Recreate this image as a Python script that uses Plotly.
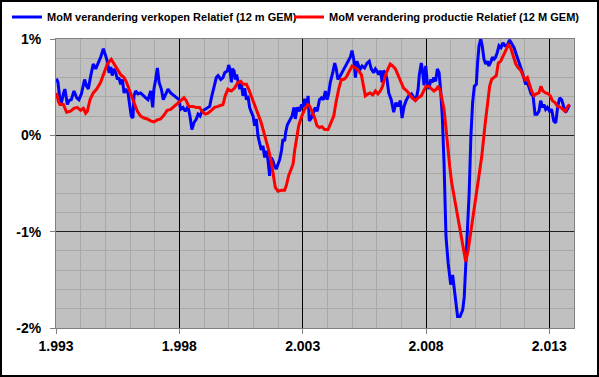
import plotly.graph_objects as go

# ---- data (decimal years, percent) ----
blue_x = [1993.02, 1993.08, 1993.16, 1993.22, 1993.30, 1993.36, 1993.46, 1993.53, 1993.62, 1993.73, 1993.84, 1993.93,
          1994.03, 1994.16, 1994.24, 1994.31, 1994.41, 1994.51, 1994.61, 1994.70, 1994.81, 1994.92,
          1995.01, 1995.08, 1995.15, 1995.22, 1995.28, 1995.35, 1995.42, 1995.49, 1995.55, 1995.62, 1995.69, 1995.76, 1995.82, 1995.92,
          1996.00, 1996.05, 1996.12, 1996.16, 1996.23, 1996.32, 1996.43, 1996.54, 1996.64, 1996.73, 1996.84, 1996.92, 1996.97,
          1997.04, 1997.11, 1997.18, 1997.27, 1997.35, 1997.45, 1997.54, 1997.65, 1997.78, 1997.89, 1997.99,
          1998.05, 1998.15, 1998.24, 1998.35, 1998.43, 1998.51, 1998.59, 1998.69, 1998.76, 1998.84, 1998.92,
          1999.03, 1999.14, 1999.23, 1999.30, 1999.41, 1999.50, 1999.57, 1999.68, 1999.77, 1999.84, 1999.95,
          2000.00, 2000.05, 2000.11, 2000.15, 2000.22, 2000.27, 2000.32, 2000.38, 2000.45, 2000.51, 2000.58, 2000.65, 2000.72, 2000.78, 2000.85, 2000.92, 2000.99,
          2001.05, 2001.12, 2001.19, 2001.26, 2001.32, 2001.39, 2001.46, 2001.53, 2001.59, 2001.66, 2001.73, 2001.80, 2001.86, 2001.93,
          2002.00, 2002.07, 2002.14, 2002.20, 2002.27, 2002.31, 2002.38, 2002.47, 2002.57, 2002.65, 2002.70, 2002.78, 2002.88, 2002.95,
          2003.01, 2003.08, 2003.16, 2003.22, 2003.27, 2003.35, 2003.45, 2003.51, 2003.59, 2003.68, 2003.76, 2003.84, 2003.92, 2003.99,
          2004.05, 2004.12, 2004.22, 2004.30, 2004.36, 2004.43, 2004.53, 2004.59, 2004.68, 2004.76, 2004.84, 2004.93,
          2005.00, 2005.07, 2005.14, 2005.20, 2005.27, 2005.34, 2005.41, 2005.51, 2005.61, 2005.70, 2005.78, 2005.88, 2005.95,
          2006.01, 2006.08, 2006.16, 2006.22, 2006.28, 2006.35, 2006.42, 2006.49, 2006.59, 2006.69, 2006.78, 2006.86, 2006.96,
          2007.03, 2007.11, 2007.19, 2007.30, 2007.41, 2007.51, 2007.59, 2007.68, 2007.73, 2007.81, 2007.86, 2007.92, 2007.99,
          2008.05, 2008.12, 2008.19, 2008.26, 2008.32, 2008.39, 2008.46, 2008.53, 2008.59, 2008.66, 2008.73, 2008.77, 2008.81, 2008.90,
          2009.00, 2009.08, 2009.13, 2009.21, 2009.28, 2009.38, 2009.49, 2009.55, 2009.62, 2009.71, 2009.75, 2009.82, 2009.89, 2009.96,
          2010.04, 2010.09, 2010.15, 2010.22, 2010.28, 2010.35, 2010.42, 2010.49, 2010.55, 2010.64, 2010.69, 2010.76, 2010.82, 2010.89, 2010.96,
          2011.04, 2011.12, 2011.20, 2011.30, 2011.39, 2011.47, 2011.57, 2011.66, 2011.74, 2011.82, 2011.91, 2011.99,
          2012.04, 2012.11, 2012.18, 2012.26, 2012.34, 2012.42, 2012.50, 2012.58, 2012.65, 2012.72, 2012.78, 2012.85, 2012.92,
          2013.01, 2013.09, 2013.18, 2013.26, 2013.34, 2013.42, 2013.50, 2013.58, 2013.66, 2013.73, 2013.82]
blue_y = [0.59, 0.55, 0.37, 0.34, 0.43, 0.48, 0.32, 0.36, 0.37, 0.46, 0.39, 0.37,
          0.43, 0.58, 0.51, 0.48, 0.62, 0.74, 0.69, 0.74, 0.81, 0.90,
          0.82, 0.77, 0.65, 0.71, 0.62, 0.69, 0.65, 0.58, 0.60, 0.53, 0.58, 0.44, 0.48, 0.44,
          0.29, 0.20, 0.18, 0.41, 0.46, 0.43, 0.44, 0.41, 0.39, 0.37, 0.46, 0.29, 0.48,
          0.58, 0.70, 0.55, 0.48, 0.37, 0.43, 0.48, 0.44, 0.41, 0.39, 0.37,
          0.27, 0.29, 0.25, 0.30, 0.20, 0.06, 0.13, 0.17, 0.22, 0.20, 0.25,
          0.27, 0.29, 0.30, 0.39, 0.51, 0.60, 0.62, 0.58, 0.60, 0.65, 0.67,
          0.73, 0.69, 0.55, 0.69, 0.67, 0.58, 0.63, 0.56, 0.48, 0.55, 0.41, 0.49, 0.37, 0.41, 0.29, 0.24, 0.20,
          0.10, 0.17, -0.01, -0.09, -0.15, -0.11, -0.23, -0.16, -0.25, -0.42, -0.23, -0.27, -0.32, -0.35,
          -0.30, -0.25, -0.16, -0.04, -0.06, 0.03, 0.11, 0.15, 0.20, 0.29, 0.17, 0.29, 0.25, 0.32,
          0.29, 0.38, 0.29, 0.41, 0.15, 0.18, 0.25, 0.29, 0.25, 0.37, 0.39, 0.37, 0.46, 0.37,
          0.43, 0.55, 0.65, 0.75, 0.69, 0.58, 0.62, 0.65, 0.69, 0.72, 0.77, 0.81,
          0.88, 0.79, 0.60, 0.77, 0.72, 0.69, 0.72, 0.70, 0.75, 0.77, 0.69, 0.65, 0.69,
          0.67, 0.63, 0.67, 0.55, 0.67, 0.65, 0.58, 0.44, 0.37, 0.24, 0.34, 0.30, 0.36,
          0.18, 0.30, 0.36, 0.41, 0.43, 0.39, 0.36, 0.48, 0.63, 0.75, 0.67, 0.52, 0.72,
          0.55, 0.48, 0.58, 0.55, 0.60, 0.56, 0.69, 0.65, 0.48, 0.20, -0.28, -0.85, -1.05, -1.33,
          -1.55, -1.45, -1.57, -1.78, -1.88, -1.88, -1.81, -1.68, -1.29, -0.85, -0.60, -0.01, 0.34, 0.51,
          0.53, 0.75, 0.93, 1.00, 0.93, 0.79, 0.74, 0.77, 0.72, 0.77, 0.81, 0.79, 0.81, 0.86, 0.93,
          0.91, 0.96, 0.93, 0.94, 0.99, 0.96, 0.91, 0.84, 0.79, 0.72, 0.65, 0.58,
          0.53, 0.55, 0.48, 0.43, 0.41, 0.22, 0.22, 0.25, 0.36, 0.29, 0.32, 0.27, 0.29,
          0.25, 0.27, 0.15, 0.13, 0.30, 0.39, 0.37, 0.30, 0.24, 0.27, 0.32]

red_x = [1993.02, 1993.10, 1993.16, 1993.30, 1993.43, 1993.59, 1993.73, 1993.86,
         1994.00, 1994.11, 1994.20, 1994.27, 1994.38, 1994.51, 1994.65, 1994.81, 1994.95,
         1995.08, 1995.24, 1995.35, 1995.49, 1995.62, 1995.76, 1995.86, 1995.96,
         1996.05, 1996.16, 1996.30, 1996.43, 1996.57, 1996.70, 1996.84, 1996.97,
         1997.11, 1997.24, 1997.38, 1997.51, 1997.65, 1997.78, 1997.92,
         1998.05, 1998.19, 1998.28, 1998.38, 1998.55, 1998.69, 1998.82, 1998.92,
         1999.05, 1999.16, 1999.30, 1999.43, 1999.57, 1999.77, 1999.86, 1999.97,
         2000.11, 2000.24, 2000.38, 2000.49, 2000.58, 2000.72, 2000.81, 2000.95,
         2001.08, 2001.22, 2001.32, 2001.43, 2001.53, 2001.62, 2001.73, 2001.81, 2001.89,
         2002.00, 2002.14, 2002.27, 2002.35, 2002.43, 2002.54, 2002.61, 2002.68, 2002.76, 2002.84, 2002.95,
         2003.08, 2003.20, 2003.27, 2003.38, 2003.49, 2003.58, 2003.68, 2003.78, 2003.89,
         2004.03, 2004.12, 2004.26, 2004.35, 2004.46, 2004.57, 2004.66, 2004.76, 2004.86,
         2005.00, 2005.14, 2005.27, 2005.38, 2005.47, 2005.54, 2005.65, 2005.74, 2005.84, 2005.95,
         2006.05, 2006.15, 2006.24, 2006.35, 2006.46, 2006.55, 2006.65, 2006.76, 2006.86, 2006.96,
         2007.09, 2007.23, 2007.32, 2007.43, 2007.57, 2007.68, 2007.81, 2007.92,
         2008.00, 2008.11, 2008.19, 2008.32, 2008.42, 2008.50, 2008.58, 2008.66, 2008.73, 2008.80, 2008.86, 2008.96,
         2009.04, 2009.24, 2009.38, 2009.51, 2009.61, 2009.71, 2009.85, 2009.98,
         2010.12, 2010.26, 2010.39, 2010.49, 2010.58, 2010.66, 2010.76, 2010.85, 2010.93,
         2011.03, 2011.12, 2011.23, 2011.34, 2011.43, 2011.53, 2011.64, 2011.74, 2011.85, 2011.93,
         2012.01, 2012.11, 2012.20, 2012.28, 2012.38, 2012.47, 2012.58, 2012.66, 2012.74, 2012.85, 2012.96,
         2013.04, 2013.12, 2013.23, 2013.34, 2013.45, 2013.55, 2013.64, 2013.72, 2013.82]
red_y = [0.44, 0.35, 0.32, 0.32, 0.24, 0.25, 0.28, 0.29,
         0.26, 0.28, 0.23, 0.25, 0.37, 0.44, 0.48, 0.55, 0.65,
         0.74, 0.79, 0.74, 0.69, 0.63, 0.60, 0.55, 0.48,
         0.41, 0.34, 0.25, 0.20, 0.18, 0.17, 0.15, 0.14,
         0.16, 0.17, 0.21, 0.26, 0.27, 0.30, 0.33,
         0.36, 0.39, 0.36, 0.30, 0.30, 0.29, 0.29, 0.25,
         0.22, 0.23, 0.26, 0.29, 0.30, 0.32, 0.41, 0.48,
         0.46, 0.49, 0.55, 0.56, 0.53, 0.53, 0.48, 0.39,
         0.29, 0.20, 0.13, 0.03, -0.04, -0.15, -0.28, -0.42, -0.54,
         -0.58, -0.57, -0.57, -0.51, -0.42, -0.34, -0.30, -0.15, -0.01, 0.10, 0.19,
         0.27, 0.32, 0.31, 0.25, 0.18, 0.10, 0.08, 0.09, 0.06,
         0.06, 0.11, 0.20, 0.34, 0.48, 0.58, 0.58, 0.60, 0.65,
         0.72, 0.70, 0.67, 0.63, 0.51, 0.41, 0.43, 0.44, 0.42, 0.46,
         0.43, 0.46, 0.51, 0.62, 0.69, 0.74, 0.72, 0.69, 0.63, 0.56,
         0.49, 0.46, 0.43, 0.39, 0.36, 0.39, 0.41, 0.46,
         0.51, 0.51, 0.49, 0.46, 0.48, 0.51, 0.46, 0.37, 0.27, 0.10, -0.08, -0.32,
         -0.49, -0.78, -0.95, -1.16, -1.31, -1.19, -0.95, -0.71,
         -0.46, -0.22, 0.10, 0.30, 0.51, 0.58, 0.60, 0.62, 0.75,
         0.77, 0.82, 0.89, 0.94, 0.91, 0.82, 0.74, 0.70, 0.67, 0.62,
         0.58, 0.60, 0.51, 0.46, 0.41, 0.43, 0.44, 0.51, 0.46, 0.44, 0.43,
         0.41, 0.36, 0.34, 0.30, 0.29, 0.27, 0.25, 0.29, 0.32]

blue_name = "MoM verandering verkopen Relatief (12 m GEM)"
red_name = "MoM verandering productie Relatief (12 M GEM)"

x_tickvals = [1993, 1998, 2003, 2008, 2013]
x_ticktext = ["1.993", "1.998", "2.003", "2.008", "2.013"]
y_tickvals = [-2, -1, 0, 1]
y_ticktext = ["-2%", "-1%", "0%", "1%"]

FONT = "Liberation Sans, Arial, sans-serif"

fig = go.Figure()
fig.add_trace(go.Scatter(x=blue_x, y=blue_y, mode="lines", name=blue_name,
                         line=dict(color="#0000FF", width=3), legend="legend"))
fig.add_trace(go.Scatter(x=red_x, y=red_y, mode="lines", name=red_name,
                         line=dict(color="#FF0000", width=3), legend="legend2"))

W, H = 599, 377
ml, mr, mt, mb = 56, 25, 39, 49
pw, ph = W - ml - mr, H - mt - mb

leg_common = dict(orientation="h", xanchor="left", yanchor="middle",
                  y=1 + (mt - 17) / ph,
                  font=dict(size=11, family=FONT, weight="bold", color="black"),
                  bgcolor="rgba(0,0,0,0)", itemwidth=30)

fig.update_layout(
    width=W, height=H,
    margin=dict(l=ml, r=mr, t=mt, b=mb, pad=0, autoexpand=False),
    paper_bgcolor="white",
    plot_bgcolor="#C0C0C0",
    font=dict(family=FONT, color="black", size=14, weight="bold"),
    showlegend=True,
    legend=dict(x=(7 - ml) / pw, **leg_common),
    legend2=dict(x=(289 - ml) / pw, **leg_common),
    xaxis=dict(range=[1993, 2014], tickvals=x_tickvals, ticktext=x_ticktext,
               showgrid=True, gridcolor="black", gridwidth=1,
               minor=dict(dtick=1, tick0=1993, showgrid=True, gridcolor="#A8A8A8", gridwidth=1),
               showline=True, linecolor="#808080", linewidth=1, mirror=True,
               ticks="outside", ticklen=5, tickcolor="#808080", zeroline=False,
               tickfont=dict(size=14, family=FONT, weight="bold")),
    yaxis=dict(range=[-2, 1], tickvals=y_tickvals, ticktext=y_ticktext,
               showgrid=True, gridcolor="#202020", gridwidth=1,
               minor=dict(dtick=0.2, tick0=0, showgrid=True, gridcolor="#A8A8A8", gridwidth=1),
               showline=True, linecolor="#808080", linewidth=1, mirror=True,
               ticks="outside", ticklen=5, tickcolor="#808080", zeroline=False,
               ticklabelstandoff=6,
               tickfont=dict(size=14, family=FONT, weight="bold")),
    shapes=[dict(type="rect", xref="paper", yref="paper",
                 x0=(-ml + 1) / pw, x1=1 + (mr - 1) / pw,
                 y0=(-mb + 1) / ph, y1=1 + (mt - 1) / ph,
                 line=dict(color="black", width=2), fillcolor="rgba(0,0,0,0)", layer="below")],
)

fig.write_html("out.html", config={"displayModeBar": False},
               post_script="document.body.style.margin='0';")
